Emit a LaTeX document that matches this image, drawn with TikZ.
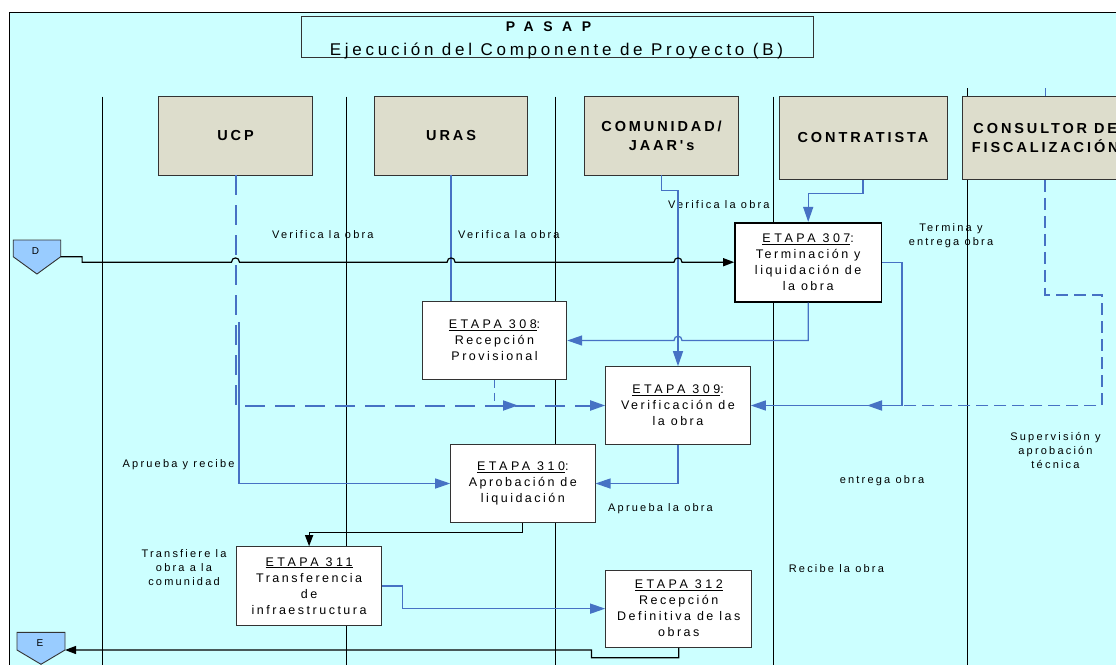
\documentclass[tikz,border=0pt]{standalone}
\usepackage{fontspec}
\setmainfont{Liberation Sans}
\newfontfamily\lsf[LetterSpace=20]{Liberation Sans}
\newfontfamily\lstitle[LetterSpace=22]{Liberation Sans}
\newfontfamily\lsetapa[LetterSpace=28]{Liberation Sans}
\newfontfamily\lswide[LetterSpace=68]{Liberation Sans}
\usetikzlibrary{arrows.meta}
\definecolor{bgcyan}{RGB}{204,255,255}
\definecolor{hdrfill}{RGB}{221,221,204}
\definecolor{flowblue}{RGB}{70,114,196}
\definecolor{pagefill}{RGB}{153,204,255}
\definecolor{boxline}{RGB}{51,51,51}
\newcommand{\etapa}[2]{{\lsetapa\underline{ETAPA #1}#2}}
\tikzset{
 lane/.style={draw=black, line width=0.9pt},
 hdr/.style={draw=boxline, fill=hdrfill, line width=0.9pt, inner sep=0pt, align=center, font=\lsf\fontsize{14.5}{19}\selectfont\bfseries},
 stepbox/.style={draw=boxline, fill=white, line width=1pt, inner sep=0pt, align=center, font=\lsf\fontsize{12.5}{16}\selectfont},
 lbl/.style={inner sep=0pt, align=center, font=\lsf\fontsize{11}{14}\selectfont},
 pagebox/.style={fill=pagefill, draw=boxline, line width=0.9pt},
 bline/.style={draw=flowblue, line width=1.3pt},
 bflow/.style={bline, -{Triangle[length=15pt,width=10pt]}},
 kflow/.style={draw=black, line width=1.2pt, -{Triangle[length=11pt,width=8pt]}},
 dflowA/.style={draw=flowblue, line width=2pt, dash pattern=on 20pt off 10pt, -{Triangle[length=15pt,width=10pt]}},
 dflowB/.style={draw=flowblue, line width=1.8pt, dash pattern=on 12pt off 6pt, -{Triangle[length=15pt,width=10pt]}},
 dflowC/.style={draw=flowblue, line width=1.8pt, dash pattern=on 8pt off 5pt, -{Triangle[length=15pt,width=10pt]}},
}
\begin{document}
\begin{tikzpicture}[x=1pt,y=-1pt]
\useasboundingbox (0,0) rectangle (1116,664);
\clip (0,0) rectangle (1116,664);
\fill[white] (0,0) rectangle (1116,664);
\draw[fill=bgcyan, line width=1pt] (9,12.7) rectangle (1130,680);

% swimlane separators
\draw[lane] (102.5,96.7) -- (102.5,670);
\draw[lane] (346,96.7) -- (346,670);
\draw[lane] (555.7,96.7) -- (555.7,670);
\draw[lane] (773,96.7) -- (773,670);
\draw[lane] (967,88) -- (967,670);

% title
\node[draw=boxline, line width=0.9pt, minimum width=512.6pt, minimum height=41.3pt, inner sep=0pt] (title) at (557.3,36.7) {};
\node[anchor=base, inner sep=0pt, font=\lswide\fontsize{14}{16}\selectfont\bfseries] (t1) at (548.5,31.7) {PASAP};
\node[anchor=base, inner sep=0pt, font=\lstitle\fontsize{17}{20}\selectfont] (t2) at (556.5,55) {Ejecución del Componente de Proyecto (B)};

% lane headers
\node[hdr, minimum width=153.9pt, minimum height=78.3pt] (ucp) at (235.5,135.85) {UCP};
\node[hdr, minimum width=153.6pt, minimum height=78.3pt] (uras) at (451.1,135.85) {URAS};
\node[hdr, minimum width=154.6pt, minimum height=78.3pt] (com) at (661.6,135.85) {COMUNIDAD/\\JAAR's};
\node[hdr, minimum width=168pt, minimum height=82.6pt] (con) at (863,138) {CONTRATISTA};
\node[hdr, minimum width=165.6pt, minimum height=82.6pt] (cons) at (1045.3,138) {CONSULTOR DE\\FISCALIZACIÓN};

% steps
\node[stepbox, draw=black, line width=1.6pt, minimum width=146.4pt, minimum height=79pt] (s307) at (808.2,262.2) {\etapa{307}{:}\\Terminación y\\liquidación de\\la obra};
\node[stepbox, minimum width=144.4pt, minimum height=77.6pt] (s308) at (494.5,340.5) {\etapa{308}{:}\\Recepción\\Provisional};
\node[stepbox, minimum width=144.6pt, minimum height=77.6pt] (s309) at (678,405.5) {\etapa{309}{:}\\Verificación de\\la obra};
\node[stepbox, minimum width=144.3pt, minimum height=78.4pt] (s310) at (522.85,483.5) {\etapa{310}{:}\\Aprobación de\\liquidación};
\node[stepbox, minimum width=144.6pt, minimum height=78.3pt] (s311) at (309.1,585.85) {\etapa{311}{}\\Transferencia\\de\\infraestructura};
\node[stepbox, minimum width=146.1pt, minimum height=77.3pt] (s312) at (678.75,608.65) {\etapa{312}{}\\Recepción\\Definitiva de las\\obras};

% off-page connectors
\draw[pagebox] (13.2,240) -- (60.7,240) -- (60.7,256.7) -- (36.95,274) -- (13.2,256.7) -- cycle;
\node[inner sep=0pt, font=\fontsize{10}{12}\selectfont] (D) at (35.5,251) {D};
\coordinate (Dout) at (60.7,256.7);
\draw[pagebox] (17,632.3) -- (65,632.3) -- (65,650) -- (41,664.3) -- (17,650) -- cycle;
\node[inner sep=0pt, font=\fontsize{10}{12}\selectfont] (E) at (40,643) {E};
\coordinate (Ein) at (65,650);

% labels
\node[lbl, anchor=west] (l1) at (272,234.3) {Verifica la obra};
\node[lbl, anchor=west] (l2) at (458,234.3) {Verifica la obra};
\node[lbl, anchor=west] (l3) at (668,205) {Verifica la obra};
\node[lbl] (l4) at (951,235.3) {Termina y\\entrega obra};
\node[lbl] (l5) at (1055.5,450.3) {Supervisión y\\aprobación\\técnica};
\node[lbl] (l6) at (882,481) {entrega obra};
\node[lbl, anchor=west] (l7) at (608,508.3) {Aprueba la obra};
\node[lbl, anchor=west] (l8) at (788.6,569) {Recibe la obra};
\node[lbl, anchor=west] (l9) at (122.5,465) {Aprueba y recibe};
\node[lbl] (l10) at (184,567.3) {Transfiere la\\obra a la\\comunidad};

% connectors
\coordinate (ucpsolid) at (239,322);
\coordinate (j308) at (518,405.5);
\coordinate (jcons) at (867,405.5);
\coordinate (constop) at (1045.3,88);

\draw[dflowA] (ucp.south) -- (ucp.south |- s309.west) -- (s309.west);
\draw[dflowC] (s308.south) -- (s308.south |- j308) -- (j308);
\draw[dflowB] (cons.south) -- (1045.3,295) -- (1102,295) -- (1102,405.5) -- (jcons);
\draw[bline] (constop) -- (cons.north);
\draw[bline] (uras.south) -- (uras.south |- s308.north);
\draw[bflow] (con.south) -- ++(0,14) -| (s307.north);
\draw[bflow] (com.south) -- ++(0,15) -| (s309.north);
\draw[bflow] (s307.south) -- (s307.south |- s308.east) -- (682,340.5) .. controls (682,334.8) and (674,334.8) .. (674,340.5) -- (s308.east);
\draw[bflow] (s307.east) -- (902,262.2) -- (902,405.5) -- (s309.east);
\draw[bflow] (ucpsolid) -- (ucpsolid |- s310.west) -- (s310.west);
\draw[bflow] (s309.south) |- (s310.east);
\draw[kflow] (s310.south) -- ++(0,9) -| (s311.north);
\draw[bflow] (s311.east) -- (402.5,585.85) -- (402.5,608.65) -- (s312.west);
\draw[kflow] (s312.south) -- ++(0,10) -- (591.4,657.7) -- (591.4,650) -- (Ein);
\draw[kflow] (Dout) -- (82.1,256.7) -- (82.1,262.2) -- (231.5,262.2) .. controls (231.5,256.5) and (239.5,256.5) .. (239.5,262.2) -- (447.1,262.2) .. controls (447.1,256.5) and (455.1,256.5) .. (455.1,262.2) -- (674,262.2) .. controls (674,256.5) and (682,256.5) .. (682,262.2) -- (s307.west);
\end{tikzpicture}
\end{document}
